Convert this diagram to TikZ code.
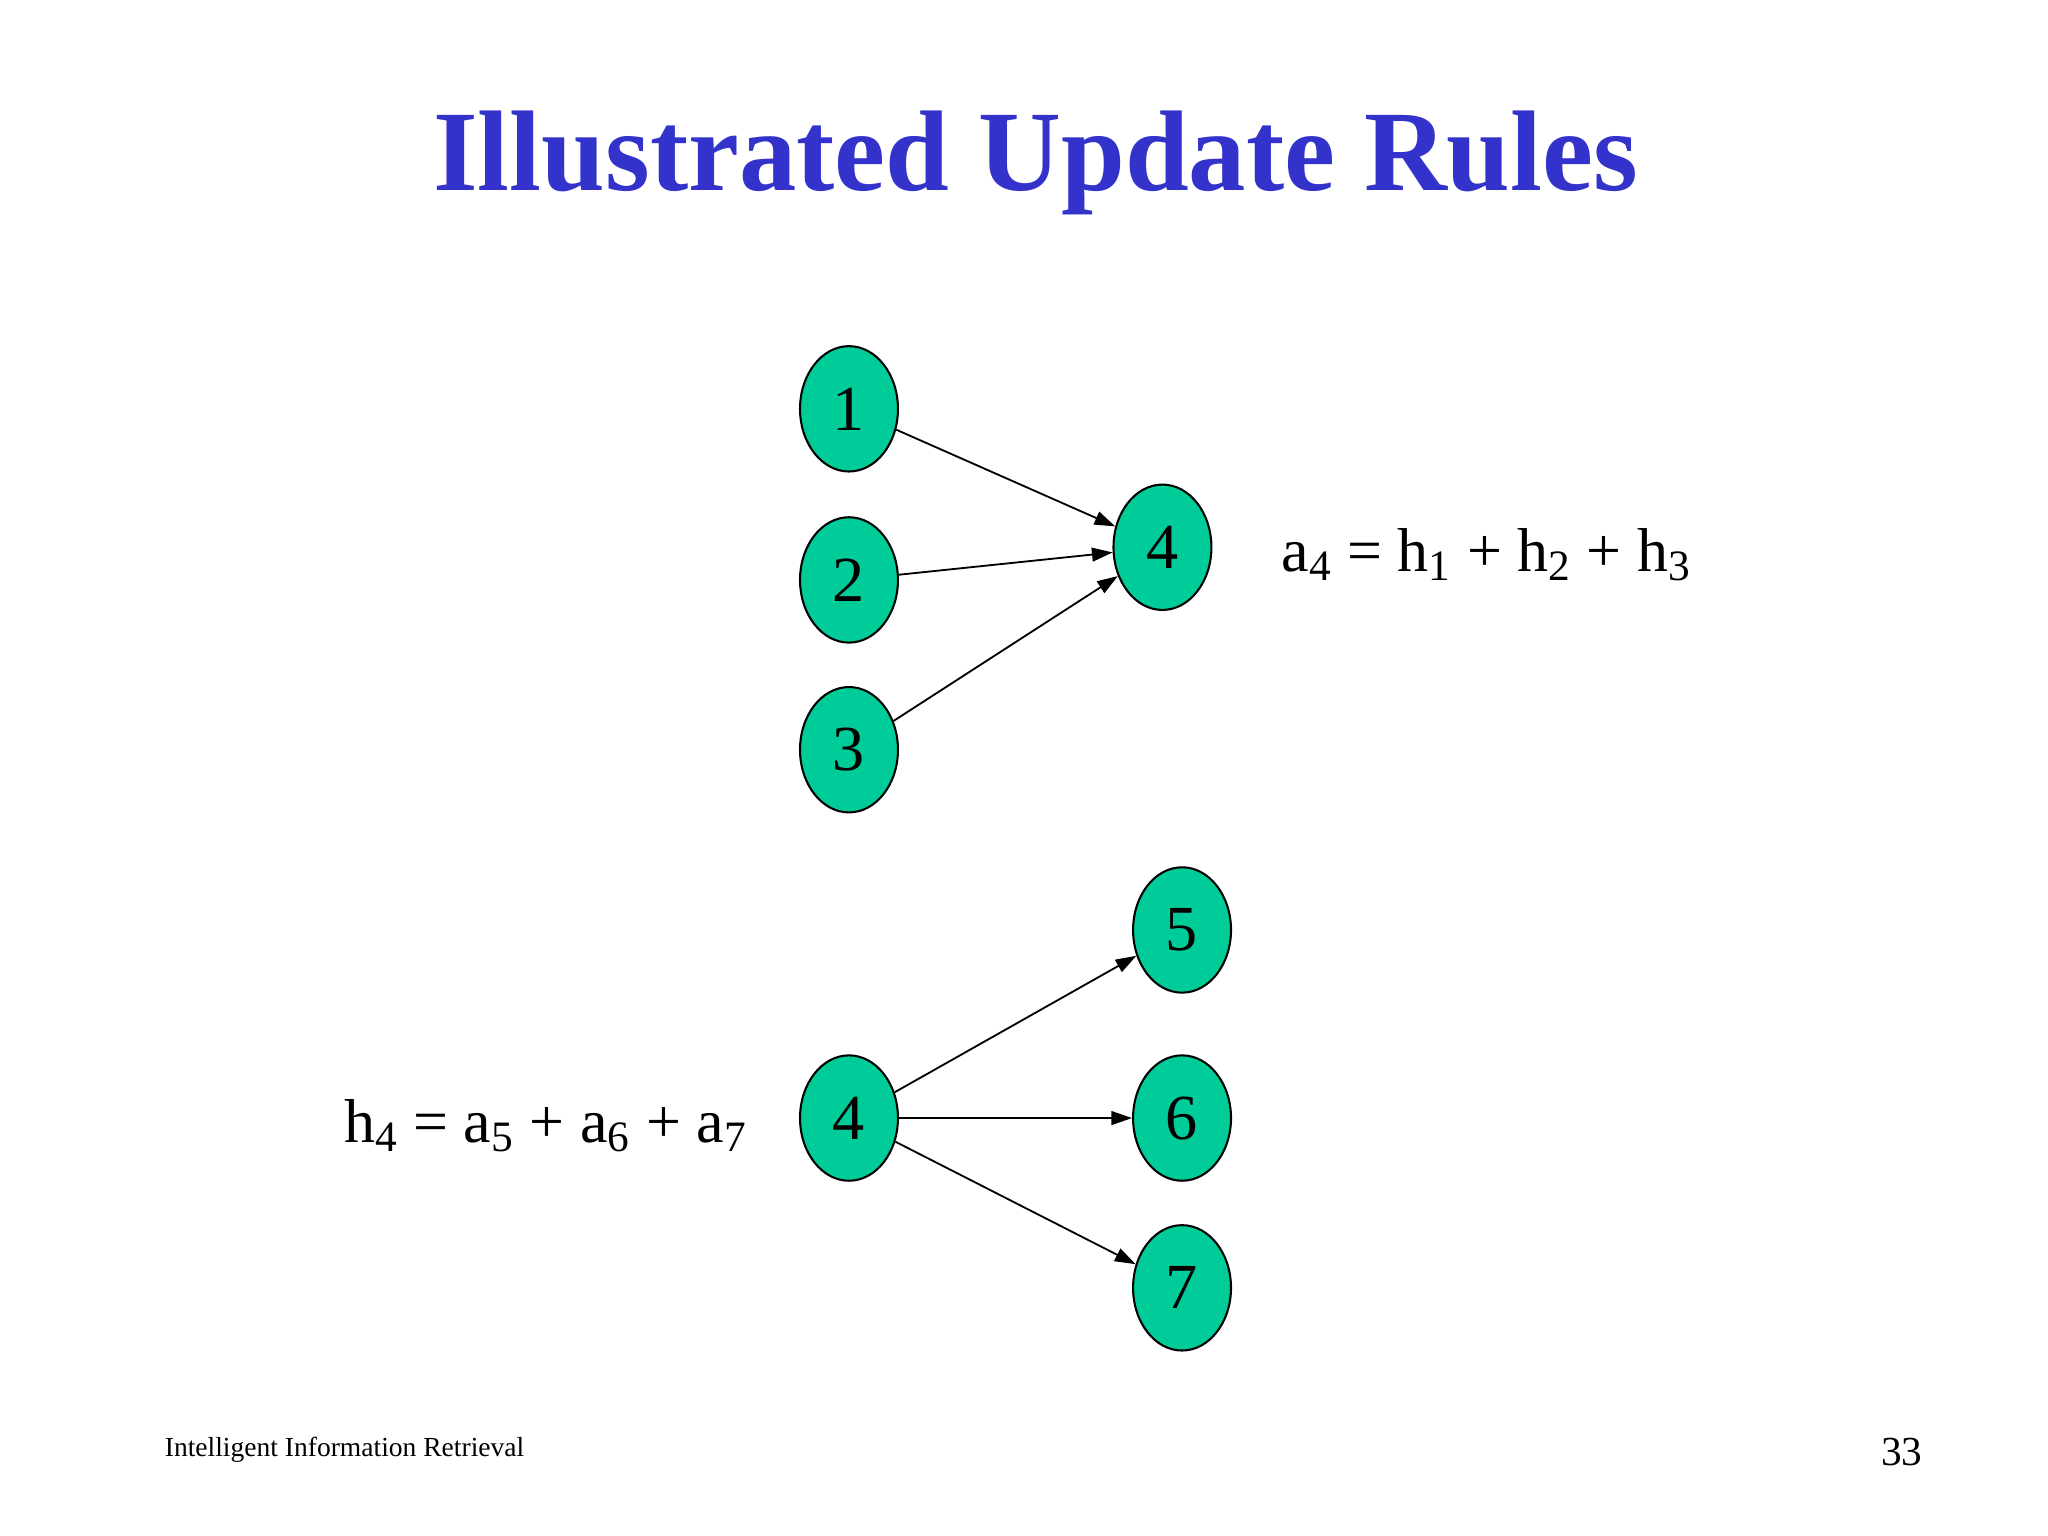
\documentclass[tikz,border=0pt]{standalone}
\usepackage{fontspec}
\setmainfont{Liberation Serif}
\usetikzlibrary{shapes.geometric,arrows.meta}
\definecolor{nodeg}{HTML}{00CC99}
\definecolor{titleb}{HTML}{3333CC}
\begin{document}
\begin{tikzpicture}[x=0.02cm,y=-0.02cm,
  vtx/.style={ellipse,draw=black,line width=0.9pt,fill=nodeg,minimum width=75\pgfmathresult,inner sep=0pt,font=\fontsize{28}{30}\selectfont},
  arr/.style={-{Triangle[length=9pt,width=6pt]},line width=0.8pt}]
\useasboundingbox (0,0) rectangle (1568,1176);
\tikzset{vtx/.append style={minimum width=1.5cm,minimum height=1.92cm}}
\node[font=\bfseries\fontsize{50}{56}\selectfont,text=titleb] (title) at (793,125) {Illustrated Update Rules};
\node[vtx] (n1) at (650,313) {1};
\node[vtx] (n2) at (650,444) {2};
\node[vtx] (n3) at (650,574) {3};
\node[vtx] (n4) at (890,419) {4};
\node[vtx] (m4) at (650,856) {4};
\node[vtx] (n5) at (905,712) {5};
\node[vtx] (n6) at (905,856) {6};
\node[vtx] (n7) at (905,986) {7};
\draw[arr] (n1) -- (n4);
\draw[arr] (n2) -- (n4);
\draw[arr] (n3) -- (n4);
\draw[arr] (m4) -- (n5);
\draw[arr] (m4) -- (n6);
\draw[arr] (m4) -- (n7);
\node[anchor=west,font=\fontsize{27}{30}\selectfont] (ea) at (975,425) {a\textsubscript{4} = h\textsubscript{1} + h\textsubscript{2} + h\textsubscript{3}};
\node[anchor=east,font=\fontsize{27}{30}\selectfont] (eh) at (578,862) {h\textsubscript{4} = a\textsubscript{5} + a\textsubscript{6} + a\textsubscript{7}};
\node[anchor=west,font=\fontsize{12}{14}\selectfont] (foot) at (120,1110) {Intelligent Information Retrieval};
\node[anchor=east,font=\fontsize{18}{20}\selectfont] (pg) at (1478,1112) {33};
\end{tikzpicture}
\end{document}
